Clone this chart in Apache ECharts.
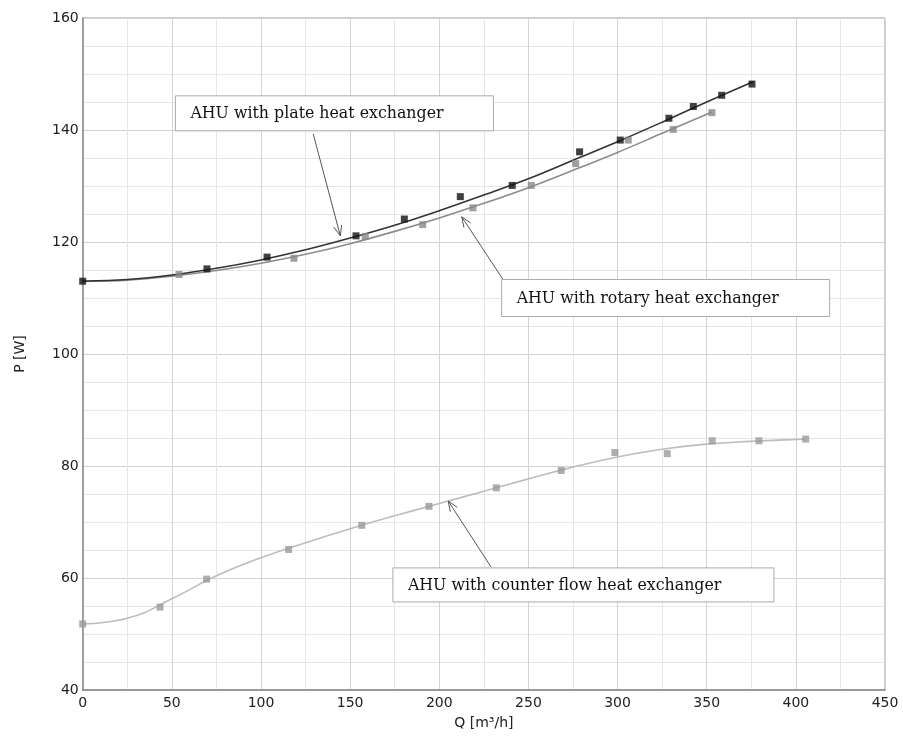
<!DOCTYPE html>
<html><head><meta charset="utf-8">
<script src="https://cdn.jsdelivr.net/npm/echarts@6/dist/echarts.min.js"></script>
<style>html,body{margin:0;padding:0;background:#fff}#c{width:903px;height:740px}</style>
</head><body><div id="c"></div>
<script>
// measured points
const plateQ = [0, 69.7, 103.4, 153.3, 180.4, 211.8, 240.9, 278.7, 301.5, 328.8, 342.5, 358.4, 375.4];
const plateP = [113, 115.2, 117.3, 121.1, 124.1, 128.1, 130.1, 136.1, 138.2, 142.1, 144.2, 146.2, 148.2];
const rotaryQ = [54, 118.5, 158.5, 190.7, 218.9, 251.6, 276.5, 306, 331.2, 352.9];
const rotaryP = [114.2, 117.1, 121, 123.1, 126.1, 130.1, 134, 138.2, 140.1, 143.1];
const counterQ = [0, 43.4, 69.5, 115.5, 156.5, 194.2, 232, 268.4, 298.5, 327.9, 353.1, 379.3, 405.5];
const counterP = [51.8, 54.8, 59.8, 65.1, 69.4, 72.8, 76.1, 79.2, 82.4, 82.2, 84.5, 84.5, 84.8];
// trend curves
const plateCurveQ = [0, 25, 50, 75, 100, 125, 150, 175, 200, 225, 250, 275, 300, 325, 350, 376];
const plateCurveP = [113, 113.3, 114.1, 115.3, 116.8, 118.6, 120.7, 123.0, 125.6, 128.4, 131.3, 134.6, 137.9, 141.4, 145.0, 148.6];
const rotaryCurveQ = [0, 25, 50, 75, 100, 125, 150, 175, 200, 225, 250, 275, 300, 325, 353];
const rotaryCurveP = [113, 113.2, 113.9, 114.9, 116.2, 117.8, 119.7, 121.9, 124.3, 126.9, 129.7, 132.8, 136.0, 139.4, 143.2];
const counterCurveQ = [0, 25, 50, 75, 100, 125, 150, 175, 200, 225, 250, 275, 300, 325, 350, 375, 405];
const counterCurveP = [51.8, 52.8, 56.3, 60.4, 63.6, 66.3, 68.8, 71.1, 73.3, 75.5, 77.7, 79.8, 81.6, 83.0, 83.9, 84.4, 84.8];
const labels = ["AHU with plate heat exchanger", "AHU with rotary heat exchanger", "AHU with counter flow heat exchanger"];

const zip = (a, b) => a.map((v, i) => [v, b[i]]);
const chart = echarts.init(document.getElementById('c'));
const tickFont = {color: '#222', fontFamily: 'DejaVu Sans', fontSize: 14};
const curve = (q, p, color, sm) => ({type: 'line', data: zip(q, p), smooth: sm, showSymbol: false, lineStyle: {color, width: 1.6}, silent: true, z: 2});
const pts = (q, p, color) => ({type: 'scatter', data: zip(q, p), symbol: 'rect', symbolSize: 7, itemStyle: {color}, silent: true, z: 3});
chart.setOption({
  animation: false,
  grid: {left: 82.7, right: 18, top: 18, bottom: 50, show: true, borderColor: '#999', borderWidth: 1},
  xAxis: {type: 'value', min: 0, max: 450, interval: 50,
    name: 'Q [m³/h]', nameLocation: 'middle', nameGap: 26, nameTextStyle: tickFont,
    axisLine: {show: true, lineStyle: {color: '#888', width: 1.5}}, axisTick: {show: false},
    axisLabel: Object.assign({margin: 6}, tickFont),
    splitLine: {show: true, lineStyle: {color: '#d3d3d3', width: 1}},
    minorTick: {show: false, splitNumber: 2},
    minorSplitLine: {show: true, lineStyle: {color: '#e6e6e6', width: 1}}},
  yAxis: {type: 'value', min: 40, max: 160, interval: 20,
    name: 'P [W]', nameLocation: 'middle', nameGap: 55, nameRotate: 90, nameTextStyle: tickFont,
    axisLine: {show: true, lineStyle: {color: '#888', width: 1.5}}, axisTick: {show: false},
    axisLabel: Object.assign({margin: 4}, tickFont),
    splitLine: {show: true, lineStyle: {color: '#d3d3d3', width: 1}},
    minorTick: {show: false, splitNumber: 4},
    minorSplitLine: {show: true, lineStyle: {color: '#e6e6e6', width: 1}}},
  series: [
    curve(counterCurveQ, counterCurveP, '#bdbdbd', 0.5),
    curve(rotaryCurveQ, rotaryCurveP, '#8c8c8c', 0.35),
    curve(plateCurveQ, plateCurveP, '#333333', 0.35),
    pts(counterQ, counterP, '#9a9a9a'),
    pts(rotaryQ, rotaryP, '#888888'),
    pts(plateQ, plateP, '#111111')
  ]
});

// annotations anchored in data coordinates
const px = (q, p) => chart.convertToPixel({gridIndex: 0}, [q, p]);
const ann = [
  {box: [52, 146.1], w: 318, h: 35, text: labels[0], from: [129.3, 139.3], to: [144.5, 121.1]},
  {box: [235, 113.3], w: 328, h: 37, text: labels[1], from: [237.2, 112.6], to: [212.6, 124.5]},
  {box: [174, 61.8], w: 381, h: 34, text: labels[2], from: [229, 62], to: [205, 73.75]}
];
const g = [];
ann.forEach(a => {
  const b = px(a.box[0], a.box[1]);
  const f = px(a.from[0], a.from[1]);
  const t = px(a.to[0], a.to[1]);
  g.push({type: 'line', shape: {x1: f[0], y1: f[1], x2: t[0], y2: t[1]}, style: {stroke: '#555', lineWidth: 1}, z: 10});
  const ang = Math.atan2(f[1] - t[1], f[0] - t[0]);
  const L = 11, s = 0.38;
  [ang + s, ang - s].forEach(an => g.push({type: 'line', shape: {x1: t[0], y1: t[1], x2: t[0] + L * Math.cos(an), y2: t[1] + L * Math.sin(an)}, style: {stroke: '#555', lineWidth: 1}, z: 10}));
  g.push({type: 'rect', shape: {x: b[0], y: b[1], width: a.w, height: a.h}, style: {fill: '#fff', stroke: '#aaa', lineWidth: 1}, z: 11});
  g.push({type: 'text', x: b[0] + 15, y: b[1] + a.h / 2 + 1, style: {text: a.text, fill: '#111', font: '15.8px "DejaVu Serif"', verticalAlign: 'middle'}, z: 12});
});
chart.setOption({graphic: g});
</script>
</body></html>
